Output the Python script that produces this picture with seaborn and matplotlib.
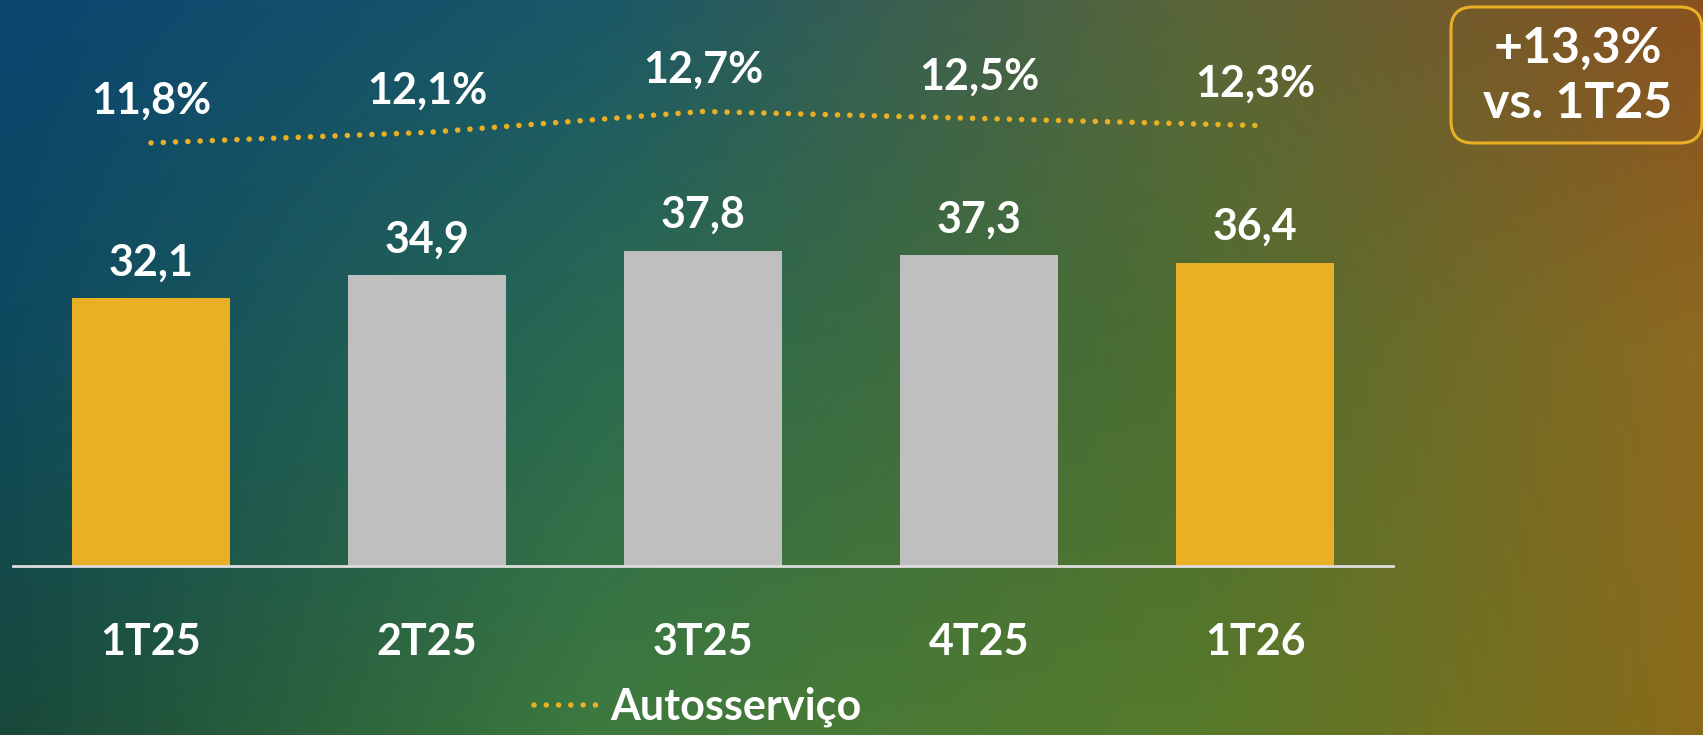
import numpy as np
import pandas as pd
import seaborn as sns
import matplotlib.pyplot as plt
from matplotlib.patches import FancyBboxPatch
from matplotlib.transforms import IdentityTransform
from matplotlib.colors import to_rgb

quarters = ["1T25", "2T25", "3T25", "4T25", "1T26"]
revenue = [32.1, 34.9, 37.8, 37.3, 36.4]
share = [11.8, 12.1, 12.7, 12.5, 12.3]
highlight = ["yes", "no", "no", "no", "yes"]
bar_labels = ["32,1", "34,9", "37,8", "37,3", "36,4"]
share_labels = ["11,8%", "12,1%", "12,7%", "12,5%", "12,3%"]
series_name = "Autosserviço"
badge_lines = ["+13,3%", "vs. 1T25"]

YELLOW = "#E9AF25"
GRAY = "#BFBFBF"
W, H = 1703, 735

sns.set_style("white")
plt.rcParams["font.family"] = ["Lato", "DejaVu Sans"]
plt.rcParams["font.weight"] = "bold"

fig = plt.figure(figsize=(W / 100, H / 100), dpi=100)

# gradient background
rows = [
    ["#0B4570", "#1A5868", "#5A6638", "#8A5020"],
    ["#0E4A5E", "#2A6A50", "#4E6E30", "#8E6A20"],
    ["#18483A", "#3E7A3E", "#567A2A", "#8A6A1A"],
]
xs = np.array([0, 600, 1200, W])
ys = np.array([0, 350, H])
grid = np.array([[to_rgb(c) for c in r] for r in rows])
gx = np.arange(W)
gy = np.arange(H)
tmp = np.stack([np.stack([np.interp(gx, xs, grid[j, :, k]) for k in range(3)], -1) for j in range(3)])
img = np.stack([np.stack([np.interp(gy, ys, tmp[:, i, k]) for k in range(3)], -1) for i in range(W)], 1)
bg = fig.add_axes([0, 0, 1, 1], zorder=-1)
bg.imshow(img, aspect="auto", extent=[0, 1, 0, 1])
bg.axis("off")

df = pd.DataFrame({"q": quarters, "v": revenue, "h": highlight, "s": share})

ax = fig.add_axes([13 / W, 169 / H, 1380 / W, 546 / H])
ax.patch.set_alpha(0)
sns.barplot(data=df, x="q", y="v", hue="h", palette={"yes": YELLOW, "no": GRAY},
            width=0.574, dodge=False, legend=False, saturation=1, linewidth=0, ax=ax)
ax.set_xlim(-0.5, 4.5)
ax.set_ylim(0, 65.5)
for i, v in enumerate(revenue):
    ax.text(i, v + 4.3, bar_labels[i], ha="center", va="center", color="white",
            fontsize=31, fontweight="bold")

for s in ["top", "left", "right"]:
    ax.spines[s].set_visible(False)
ax.spines["bottom"].set_color("#DDDDDD")
ax.spines["bottom"].set_linewidth(2)
ax.set_yticks([])
ax.set_xlabel("")
ax.set_ylabel("")
ax.tick_params(axis="x", length=0, pad=40, labelsize=31, labelcolor="white")
for t in ax.get_xticklabels():
    t.set_fontweight("bold")

ax2 = ax.twinx()
ax2.set_ylim(-0.32, 15.32)
sns.lineplot(data=df, x="q", y="s", ax=ax2, color=YELLOW, linewidth=4,
             linestyle=(0, (0.01, 2.2)), dash_capstyle="round", label=series_name,
             legend=False)
ax2.lines[0].set_dash_capstyle("round")
for i, v in enumerate(share):
    ax2.text(i, v + 1.2, share_labels[i], ha="center", va="center", color="white",
             fontsize=31, fontweight="bold")
ax2.axis("off")
ax2.set_xlim(-0.5, 4.5)

leg = fig.legend(handles=[ax2.lines[0]], labels=[series_name], loc="center",
                 bbox_to_anchor=(698 / W, 28 / H), frameon=False,
                 handlelength=1.56, handletextpad=0.2, labelcolor="white",
                 prop={"weight": "bold", "size": 31})

# badge
badge = FancyBboxPatch((1451, H - 143), 251, 136, boxstyle="round,pad=0,rounding_size=22",
                       transform=IdentityTransform(), facecolor="none",
                       edgecolor=YELLOW, linewidth=2.2)
fig.add_artist(badge)
fig.text(1578 / W, 1 - 48 / H, badge_lines[0], ha="center", va="center", color="white",
         fontsize=36, fontweight="bold")
fig.text(1578 / W, 1 - 103 / H, badge_lines[1], ha="center", va="center", color="white",
         fontsize=36, fontweight="bold")

fig.savefig("out.png", dpi=100)
